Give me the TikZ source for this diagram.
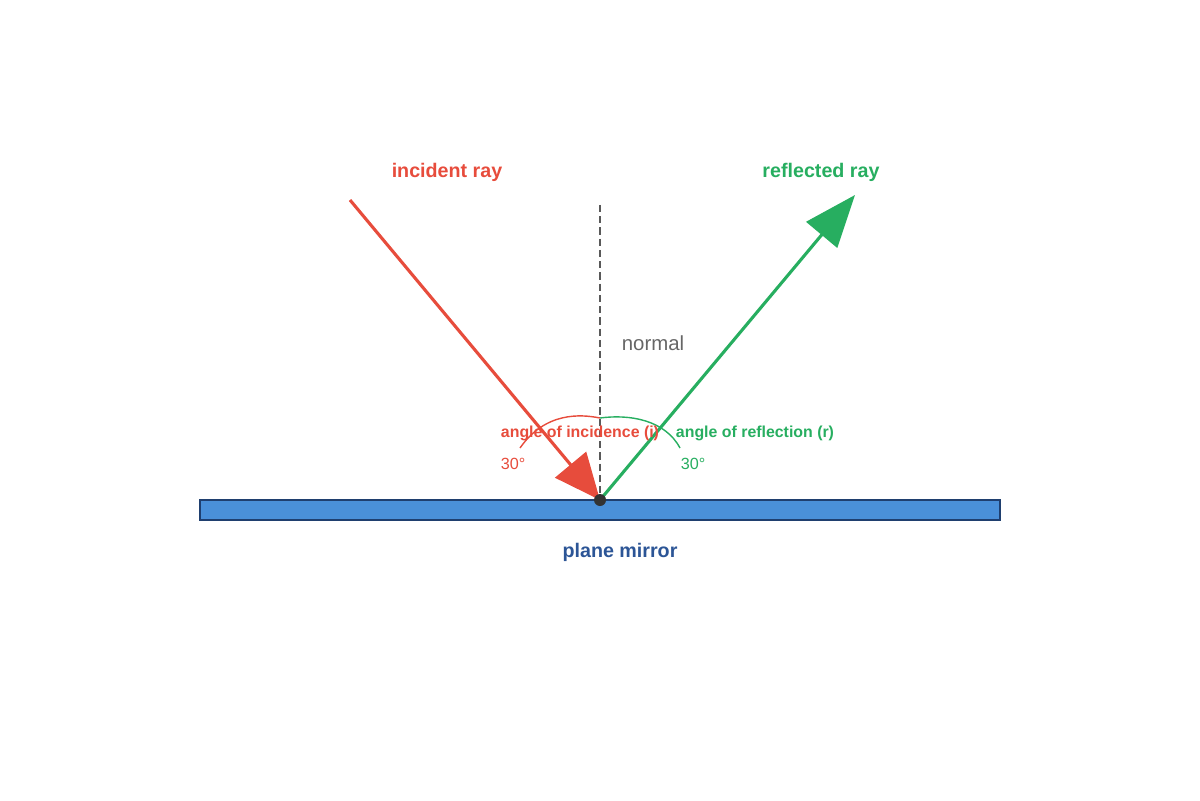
\documentclass[tikz,border=0pt]{standalone}
\usepackage{fontspec}
\setmainfont{Liberation Sans}
\usetikzlibrary{arrows.meta}
\definecolor{rred}{HTML}{E74C3C}
\definecolor{rgreen}{HTML}{27AE60}
\definecolor{mblue}{HTML}{4A90D9}
\definecolor{mdark}{HTML}{1F3F6F}
\definecolor{lblue}{HTML}{2C5596}
\begin{document}
\begin{tikzpicture}[x=0.025cm,y=-0.025cm,
  ray/.style={line width=2.2pt},
  big/.style={font=\fontsize{14}{16}\selectfont\bfseries},
  lab/.style={font=\fontsize{11.3}{13}\selectfont\bfseries},
  deg/.style={font=\fontsize{11.5}{13}\selectfont}]
\useasboundingbox (0,0) rectangle (1200,800);
\draw[mdark,fill=mblue,line width=1pt] (200,500) rectangle (1000,520);
\draw[mdark,line width=2pt] (200,500) -- (1000,500);
\coordinate (O) at (600,500);
\coordinate (S) at (350,200);
\coordinate (E) at (855,195);
\coordinate (N) at (600,205);
\draw[dashed,gray!70!black,line width=1.1pt,dash pattern=on 5pt off 3pt] (N) -- (O);
\draw[rred,line width=1pt] (520,448) .. controls (545,412) and (580,414) .. (600,418);
\draw[rgreen,line width=1pt] (600,418) .. controls (630,414) and (665,420) .. (680,448);
\draw[ray,rgreen,-{Triangle[length=1.3cm,width=1cm]}] (O) -- (E);
\draw[ray,rred,-{Triangle[length=1.15cm,width=1cm]}] (S) -- (O);
\fill[black!80] (O) circle (6);
\node[big,text=rred] (ti) at (447,172) {incident ray};
\node[big,text=rgreen] (tr) at (821,172) {reflected ray};
\node[font=\fontsize{14.5}{16}\selectfont,text=gray!80!black] (nm) at (653,343) {normal};
\node[lab,text=rred] (ai) at (580,433) {angle of incidence (i)};
\node[lab,text=rgreen] (ar) at (755,433) {angle of reflection (r)};
\node[deg,text=rred] (d1) at (513,464) {30°};
\node[deg,text=rgreen] (d2) at (693,464) {30°};
\node[big,text=lblue] (pm) at (620,552) {plane mirror};
\end{tikzpicture}
\end{document}
